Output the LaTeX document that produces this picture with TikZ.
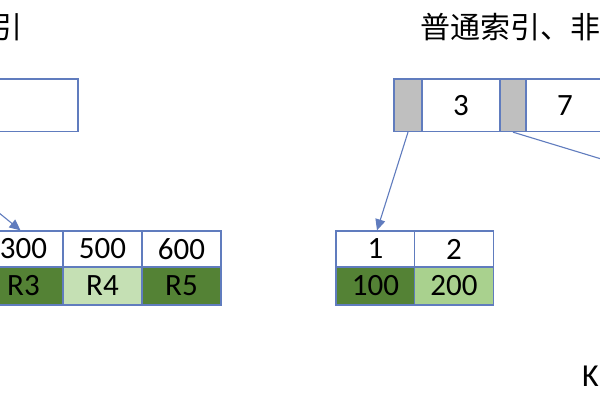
\documentclass[tikz,border=0pt]{standalone}
\usepackage{fontspec}
\setmainfont{Carlito}
\newfontfamily\cjk{Noto Sans CJK SC}
\usetikzlibrary{arrows.meta}
\definecolor{bl}{RGB}{96,124,190}
\definecolor{dkg}{RGB}{84,130,53}
\definecolor{ltg}{RGB}{197,224,180}
\definecolor{mdg}{RGB}{169,209,142}
\definecolor{gr}{RGB}{191,191,191}
\tikzset{
  cell/.style={draw=bl, line width=1.3pt, inner sep=0pt, font=\fontsize{31}{31}\selectfont},
  numc/.style={cell, fill=white, minimum width=79pt, minimum height=36pt},
  valc/.style={cell, minimum width=79pt, minimum height=38pt},
  ptr/.style={cell, fill=gr, minimum height=52.5pt},
  keyc/.style={cell, fill=white, minimum height=52.5pt},
  conn/.style={draw=bl, line width=1.1pt},
  arr/.style={conn, -{Triangle[length=11pt,width=10pt]}},
  title/.style={font=\cjk\fontsize{30}{30}\selectfont, inner sep=0pt}
}
\begin{document}
\begin{tikzpicture}[x=1pt,y=1pt]
\useasboundingbox (0,0) rectangle (600,-400);
\clip (0,0) rectangle (600,-400);
\fill[white] (0,0) rectangle (600,-400);
% titles
\node[title, anchor=east] (tl) at (23,-27) {引};
\node[title, anchor=west] (tr) at (420,-27) {普通索引、非聚};
% top-left box
\node[keyc, minimum width=118pt] (lbox) at (19,-105.25) {};
% bottom-left table
\node[numc] (n300) at (23.5,-249) {300};
\node[numc] (n500) at (102.5,-249) {500};
\node[numc] (n600) at (181.5,-249) {600};
\node[valc, fill=dkg] (r3) at (23.5,-286) {R3};
\node[valc, fill=ltg] (r4) at (102.5,-286) {R4};
\node[valc, fill=dkg] (r5) at (181.5,-286) {R5};
% top-right node
\node[ptr, minimum width=28pt] (g1) at (408,-105.25) {};
\node[keyc, minimum width=78pt] (k3) at (461,-105.25) {3};
\node[ptr, minimum width=26pt] (g2) at (513,-105.25) {};
\node[keyc, minimum width=78pt] (k7) at (565,-105.25) {7};
% bottom-right table
\node[numc] (n1) at (375.5,-249) {1};
\node[numc] (n2) at (454,-249) {2};
\node[valc, fill=dkg] (v100) at (375.5,-286) {100};
\node[valc, fill=mdg] (v200) at (454,-286) {200};
% K label
\node[anchor=base west, inner sep=0pt, font=\fontsize{32}{32}\selectfont] (klab) at (582,-386) {K};
% connectors
\coordinate (lstart) at (-60,-165);
\coordinate (rend) at (700,-189);
\draw[arr] (lstart) -- ([xshift=-3pt]n300.north);
\draw[arr] (g1.south) -- ([xshift=1.5pt]n1.north);
\draw[conn] (g2.south) -- (rend);
\end{tikzpicture}
\end{document}
